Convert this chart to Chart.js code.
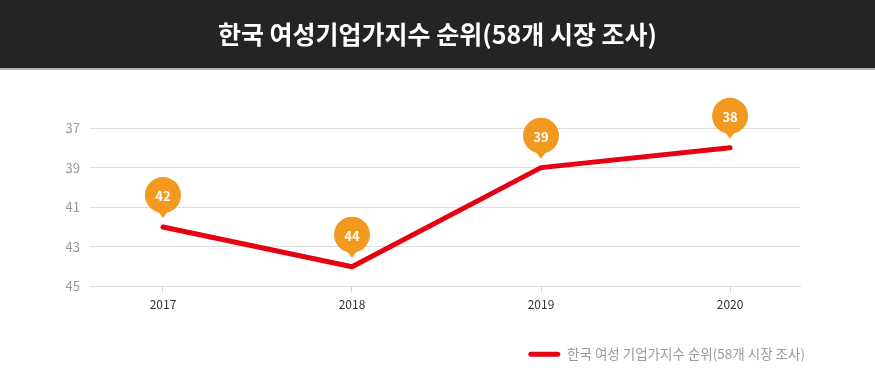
<!DOCTYPE html>
<html><head><meta charset="utf-8">
<script src="https://cdn.jsdelivr.net/npm/chart.js@4/dist/chart.umd.min.js"></script>
<style>html,body{margin:0;padding:0;background:#fff}#wrap{width:875px;height:384px}</style>
</head><body><div id="wrap"><canvas id="c" width="875" height="384"></canvas></div>
<script>
const titleText = '한국 여성기업가지수 순위(58개 시장 조사)';
const legendText = '한국 여성 기업가지수 순위(58개 시장 조사)';
const years = ['2017', '2018', '2019', '2020'];
const ranks = [42, 44, 39, 38];
const yTicks = [37, 39, 41, 43, 45];

const FONT = '"Noto Sans CJK KR", "Noto Sans", sans-serif';
const RED = '#e60012';
const ORANGE = '#f29a1f';

const headerPlugin = {
  id: 'header',
  beforeDraw(chart) {
    const ctx = chart.ctx;
    ctx.save();
    ctx.fillStyle = '#242424';
    ctx.fillRect(0, 0, chart.width, 68);
    ctx.fillStyle = '#b5b5b5';
    ctx.fillRect(0, 68, chart.width, 2);
    ctx.restore();
  }
};

const pinPlugin = {
  id: 'pins',
  afterDatasetsDraw(chart) {
    const ctx = chart.ctx;
    const meta = chart.getDatasetMeta(0);
    meta.data.forEach((pt, i) => {
      const x = pt.x, cy = pt.y - 32, r = 18;
      ctx.save();
      ctx.fillStyle = ORANGE;
      ctx.beginPath();
      ctx.arc(x, cy, r, 0, Math.PI * 2);
      ctx.fill();
      ctx.beginPath();
      ctx.moveTo(x - 6, cy + r - 3);
      ctx.lineTo(x + 6, cy + r - 3);
      ctx.lineTo(x, cy + r + 5);
      ctx.closePath();
      ctx.fill();
      ctx.fillStyle = '#fff';
      ctx.font = 'bold 13px ' + FONT;
      ctx.textAlign = 'center';
      ctx.textBaseline = 'middle';
      ctx.fillText(String(ranks[i]), x, cy + 1);
      ctx.restore();
    });
  }
};

new Chart(document.getElementById('c'), {
  type: 'line',
  data: {
    datasets: [{
      label: legendText,
      data: ranks.map((v, i) => ({ x: i, y: v })),
      borderColor: RED,
      backgroundColor: RED,
      borderWidth: 5,
      borderCapStyle: 'round',
      borderJoinStyle: 'round',
      pointRadius: 0,
      pointHoverRadius: 0,
      tension: 0,
      fill: false
    }]
  },
  options: {
    responsive: false,
    animation: false,
    layout: { padding: { left: 60, right: 60, top: 0, bottom: 13 } },
    plugins: {
      tooltip: { enabled: false },
      title: {
        display: true,
        text: titleText,
        color: '#ffffff',
        font: { family: FONT, size: 25, weight: 'bold', lineHeight: 1.2 },
        padding: { top: 19, bottom: 79 }
      },
      legend: {
        display: true,
        position: 'bottom',
        align: 'end',
        labels: {
          boxWidth: 32,
          boxHeight: 5,
          padding: 10,
          color: '#9a9a9a',
          font: { family: FONT, size: 13.5 },
          useBorderRadius: true,
          borderRadius: 2.5,
          generateLabels() {
            return [{
              text: legendText,
              fillStyle: RED,
              strokeStyle: RED,
              lineWidth: 0,
              hidden: false,
              datasetIndex: 0,
              fontColor: '#9a9a9a',
              borderRadius: 2.5
            }];
          }
        }
      }
    },
    scales: {
      x: {
        type: 'linear',
        min: -0.386,
        max: 3.37,
        afterBuildTicks(scale) { scale.ticks = years.map((y, i) => ({ value: i })); },
        afterFit(scale) { scale.height = 51; },
        grid: { drawOnChartArea: false, drawTicks: true, tickLength: 5, color: '#cccccc' },
        border: { display: true, color: '#dddddd' },
        ticks: {
          padding: 6,
          color: '#333333',
          font: { family: FONT, size: 12 },
          callback: (v) => years[v]
        }
      },
      y: {
        reverse: true,
        min: 37,
        max: 45,
        afterBuildTicks(scale) { scale.ticks = yTicks.map(v => ({ value: v })); },
        afterFit(scale) { scale.width = 30; },
        grid: { color: '#dddddd', lineWidth: 1, drawTicks: false },
        border: { display: false },
        ticks: {
          padding: 10,
          color: '#999999',
          font: { family: FONT, size: 13 }
        }
      },
      yR: {
        position: 'right',
        display: true,
        afterFit(scale) { scale.width = 15; },
        grid: { display: false, drawTicks: false },
        border: { display: false },
        ticks: { display: false }
      }
    }
  },
  plugins: [headerPlugin, pinPlugin]
});
</script>
</body></html>
